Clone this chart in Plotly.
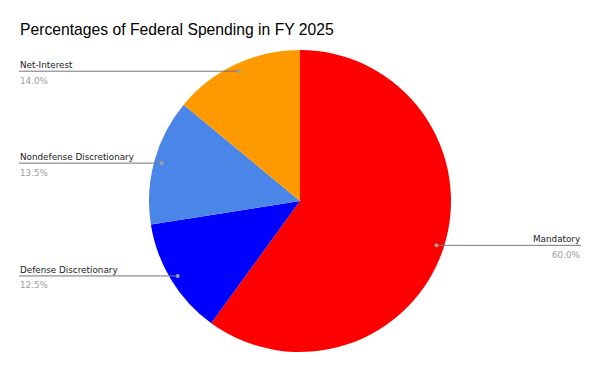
import math
import plotly.graph_objects as go

# Data
categories = ["Mandatory", "Defense Discretionary", "Nondefense Discretionary", "Net-Interest"]
values = [60.0, 12.5, 13.5, 14.0]
colors = ["#ff0000", "#0000ff", "#4a86e8", "#ff9900"]
title = "Percentages of Federal Spending in FY 2025"

W, H = 600, 371
cx, cy, R = 300, 201, 151  # pie center/radius in pixels

def px_x(x):
    return x / W

def px_y(y):
    return 1 - y / H

fig = go.Figure(go.Pie(
    labels=categories,
    values=values,
    marker=dict(colors=colors, line=dict(width=0)),
    sort=False,
    direction="clockwise",
    rotation=0,
    textinfo="none",
    hoverinfo="label+percent",
    showlegend=False,
    domain=dict(x=[px_x(cx - R), px_x(cx + R)], y=[px_y(cy + R), px_y(cy - R)]),
))

LABEL_FONT = "DejaVu Sans"
shapes = []
annotations = []
total = sum(values)
cum = 0.0
for name, v in zip(categories, values):
    mid = (cum + v / 2) / total * 2 * math.pi
    cum += v
    r = 0.95 * R
    dx = cx + r * math.sin(mid)
    dy = cy - r * math.cos(mid)
    right = math.sin(mid) > 0
    xe = 581 if right else 19
    shapes.append(dict(type="line", xref="paper", yref="paper",
                       x0=px_x(dx), x1=px_x(xe), y0=px_y(dy), y1=px_y(dy),
                       line=dict(color="#757575", width=1)))
    shapes.append(dict(type="circle", xref="paper", yref="paper",
                       x0=px_x(dx - 2), x1=px_x(dx + 2), y0=px_y(dy + 2), y1=px_y(dy - 2),
                       fillcolor="#9e9e9e", line=dict(width=0)))
    anchor = "right" if right else "left"
    xt = xe + 1 if right else xe - 1
    annotations.append(dict(text=name, x=px_x(xt), y=px_y(dy - 6), xref="paper", yref="paper",
                            xanchor=anchor, yanchor="middle", showarrow=False,
                            font=dict(family=LABEL_FONT, size=8.8, color="#222222")))
    annotations.append(dict(text=f"{v / total * 100:.1f}%", x=px_x(xt), y=px_y(dy + 9.5),
                            xref="paper", yref="paper",
                            xanchor=anchor, yanchor="middle", showarrow=False,
                            font=dict(family=LABEL_FONT, size=8.8, color="#9e9e9e")))

annotations.append(dict(text=title, x=px_x(18), y=px_y(29), xref="paper", yref="paper",
                        xanchor="left", yanchor="middle", showarrow=False,
                        font=dict(family="Liberation Sans, Arial", size=15.7, color="#000000")))

fig.update_layout(
    width=W, height=H,
    margin=dict(l=0, r=0, t=0, b=0),
    paper_bgcolor="white",
    plot_bgcolor="white",
    shapes=shapes,
    annotations=annotations,
)

fig.write_html("out.html", config={"displayModeBar": False},
               post_script="document.body.style.margin='0';document.body.style.overflow='hidden';")
